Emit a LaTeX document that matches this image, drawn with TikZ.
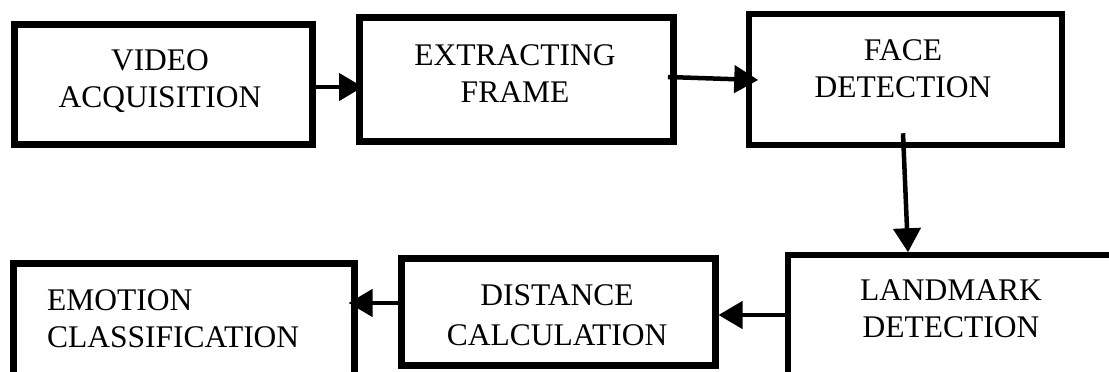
\documentclass[tikz,border=0pt]{standalone}
\usepackage{fontspec}
\setmainfont{Liberation Serif}
\usetikzlibrary{arrows.meta,calc}
\begin{document}
\begin{tikzpicture}[x=1pt,y=-1pt,
  box/.style={draw=black, line width=7pt, rectangle, inner sep=0pt},
  txt/.style={font=\fontsize{31.5}{37}\selectfont, align=center, inner sep=0pt, text=black},
  arr/.style={line width=4.5pt, -{Triangle[length=24pt,width=27pt]}}]
\useasboundingbox (0,0) rectangle (1109,372);
\clip (0,0) rectangle (1109,372);
% boxes
\node[box, minimum width=298pt, minimum height=120pt] (b1) at (163,84) {};
\node[box, minimum width=314pt, minimum height=124pt] (b2) at (516,79) {};
\node[box, line width=6.5pt, minimum width=313pt, minimum height=131pt] (b3) at (905.5,79.5) {};
\node[box, line width=5.5pt, minimum width=352pt, minimum height=145pt] (b4) at (964,327.5) {};
\node[box, minimum width=314pt, minimum height=107pt] (b5) at (558,311.5) {};
\node[box, minimum width=341pt, minimum height=137pt] (b6) at (183.5,331.5) {};
% texts
\node[txt] (t1) at (160,81.5) {VIDEO\\ACQUISITION};
\node[txt] (t2) at (515,73.5) {EXTRACTING\\FRAME};
\node[txt] (t3) at (903,69) {FACE\\DETECTION};
\node[txt] (t4) at (951,308.5) {LANDMARK\\DETECTION};
\node[txt, font=\fontsize{31.5}{40}\selectfont] (t5) at (557,315) {DISTANCE\\CALCULATION};
\node[txt, align=left, anchor=west] (t6) at (47,319) {EMOTION\\CLASSIFICATION};
% arrows
\draw[arr] (b1.east |- 0,87) -- ($(b2.west |- 0,87)+(7.5,0)$);
\draw[arr] ($(b2.east |- 0,77)+(-8.5,0)$) -- ($(b3.west |- 0,80)+(12.5,0)$);
\draw[arr] ($(b3.south -| 903,0)+(0,-15)$) -- (b4.north -| 908,0);
\draw[arr] (b4.west |- 0,315) -- (b5.east |- 0,315);
\draw[arr] (b5.west |- 0,303) -- ($(b6.east |- 0,303)+(-9,0)$);
\end{tikzpicture}
\end{document}
